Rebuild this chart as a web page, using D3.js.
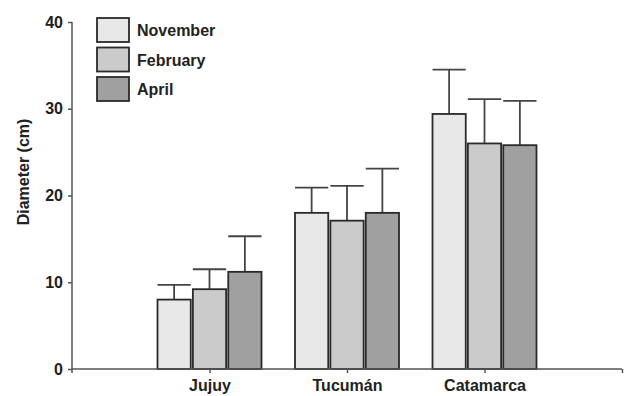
<!DOCTYPE html>
<html><head><meta charset="utf-8">
<script src="https://cdn.jsdelivr.net/npm/d3@7"></script>
<style>body{margin:0;background:#fff}svg{display:block}</style>
</head><body>
<script>
const categories = ["Jujuy", "Tucumán", "Catamarca"];
const seriesNames = ["November", "February", "April"];
const means = {
  November: [8.0, 18.0, 29.4],
  February: [9.2, 17.1, 26.0],
  April:    [11.2, 18.0, 25.8]
};
const errors = {
  November: [1.7, 2.9, 5.1],
  February: [2.3, 4.0, 5.1],
  April:    [4.1, 5.1, 5.1]
};
const yTicks = [0, 10, 20, 30, 40];
const colors = ["#e8e8e8", "#cbcbcb", "#a0a0a0"];

const W = 625, H = 396;
const svg = d3.select("body").append("svg").attr("width", W).attr("height", H);
const font = "'Liberation Sans', Arial, sans-serif";

const y = d3.scaleLinear().domain([0, 40]).range([369, 22]);
const xPts = d3.scalePoint().domain(["_s", ...categories, "_e"]).range([72, 622]);
const inner = d3.scaleBand().domain(seriesNames).range([-52, 52]).paddingInner(0.06);

// bars
seriesNames.forEach((s, si) => {
  categories.forEach((c, ci) => {
    const x0 = xPts(c) + inner(s);
    const bw = inner.bandwidth();
    const v = means[s][ci], e = errors[s][ci];
    const cx = x0 + bw / 2;
    svg.append("line").attr("x1", cx).attr("x2", cx).attr("y1", y(v)).attr("y2", y(v + e))
      .attr("stroke", "#444").attr("stroke-width", 1.8);
    svg.append("line").attr("x1", x0).attr("x2", x0 + bw).attr("y1", y(v + e)).attr("y2", y(v + e))
      .attr("stroke", "#444").attr("stroke-width", 1.8);
    svg.append("rect").attr("x", x0).attr("y", y(v)).attr("width", bw).attr("height", y(0) - y(v))
      .attr("fill", colors[si]).attr("stroke", "#2a2a2a").attr("stroke-width", 1.8);
  });
});

// y axis
const yAxis = svg.append("g").attr("transform", "translate(72,0)")
  .call(d3.axisLeft(y).tickValues(yTicks).tickSize(4).tickPadding(5).tickFormat(d3.format("d")));
yAxis.select(".domain").attr("stroke", "#555").attr("stroke-width", 1.5).attr("d", "M0,22V373");
yAxis.selectAll(".tick line").attr("stroke", "#555").attr("stroke-width", 1.5);
yAxis.selectAll("text").attr("font-family", font).attr("font-size", 16).attr("font-weight", "bold").attr("fill", "#222");

// x axis
const xAxis = svg.append("g").attr("transform", "translate(0,369)")
  .call(d3.axisBottom(xPts).tickSize(4).tickPadding(7).tickFormat(d => d.startsWith("_") ? "" : d));
xAxis.select(".domain").attr("stroke", "#555").attr("stroke-width", 1.5).attr("d", "M72,0H622");
xAxis.selectAll(".tick line").attr("stroke", "#555").attr("stroke-width", 1.5);
xAxis.selectAll(".tick").filter(d => d === "_s").remove();
xAxis.selectAll("text").attr("font-family", font).attr("font-size", 16).attr("font-weight", "bold").attr("fill", "#222");

// y label
svg.append("text").attr("transform", "translate(29,172) rotate(-90)").attr("text-anchor", "middle")
  .attr("font-family", font).attr("font-size", 16).attr("font-weight", "bold").attr("fill", "#222")
  .text("Diameter (cm)");

// legend
const leg = svg.append("g");
seriesNames.forEach((s, i) => {
  const ly = 18 + i * 29.5;
  leg.append("rect").attr("x", 97).attr("y", ly).attr("width", 32).attr("height", 24)
    .attr("fill", colors[i]).attr("stroke", "#2a2a2a").attr("stroke-width", 1.8);
  leg.append("text").attr("x", 137).attr("y", ly + 18).attr("font-family", font).attr("font-size", 16)
    .attr("font-weight", "bold").attr("fill", "#222").text(s);
});
</script>
</body></html>
